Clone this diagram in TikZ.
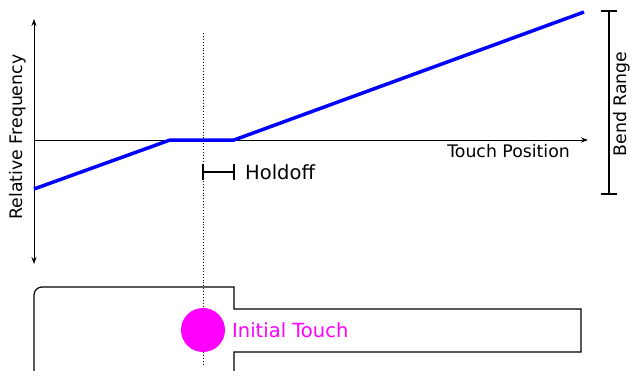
\documentclass[tikz,border=0pt]{standalone}
\usepackage{fontspec}
\setmainfont{DejaVu Sans}
\usetikzlibrary{arrows.meta}
\definecolor{touchpink}{RGB}{255,0,255}
\begin{document}
\begin{tikzpicture}[x=1pt,y=-1pt,
  axis/.style={line width=1pt,-{Stealth[length=7pt,width=5pt]}},
  curve/.style={draw=blue,line width=3.5pt,line join=round},
  bar/.style={line width=1.4pt},
  lbl/.style={font=\fontsize{17.3}{20}\selectfont,inner sep=0pt},
  biglbl/.style={font=\fontsize{19.5}{22}\selectfont,inner sep=0pt}]
\useasboundingbox (0,0) rectangle (639,370);

% axes
\coordinate (o) at (34,140);
\coordinate (ytop) at (34,19);
\coordinate (ybot) at (34,264);
\coordinate (xend) at (588,140);
\draw[axis] (o) -- (ytop);
\draw[axis] (o) -- (ybot);
\draw[axis] (o) -- (xend);

% touch position marker
\coordinate (dtop) at (203,33);
\coordinate (dbot) at (203,366);
\draw[dotted,line width=0.9pt] (dtop) -- (dbot);

% frequency response
\coordinate (p0) at (34,189);
\coordinate (p1) at (170,140);
\coordinate (p2) at (234,140);
\coordinate (p3) at (584,12);
\draw[curve] (p0) -- (p1) -- (p2) -- (p3);

% holdoff interval
\coordinate (h0) at (203,172);
\coordinate (h1) at (234,172);
\draw[bar] (h0) -- (h1);
\draw[bar] ([yshift=-8]h0) -- ([yshift=8]h0);
\draw[bar] ([yshift=-8]h1) -- ([yshift=8]h1);
\node[biglbl,anchor=west] (hold) at (245,172) {Holdoff};

% bend range
\coordinate (b0) at (609,11);
\coordinate (b1) at (609,194);
\draw[bar] (b0) -- (b1);
\draw[bar] ([xshift=-8]b0) -- ([xshift=8]b0);
\draw[bar] ([xshift=-8]b1) -- ([xshift=8]b1);
\node[lbl,rotate=90] (bend) at (622,104) {Bend Range};

% axis labels
\node[lbl,rotate=90] (rf) at (18,137) {Relative Frequency};
\node[lbl,anchor=east] (tp) at (570,151) {Touch Position};

% touch strip outline
\draw[line width=1.2pt]
  (34,380) -- (34,295) arc[start angle=180,end angle=270,radius=8] -- (234,287)
  -- (234,309) -- (581,309) -- (581,352) -- (234,352) -- (234,380);

% initial touch
\fill[touchpink] (203,330) circle (22);
\node[biglbl,anchor=west,text=touchpink] (it) at (232,330) {Initial Touch};
\end{tikzpicture}
\end{document}
